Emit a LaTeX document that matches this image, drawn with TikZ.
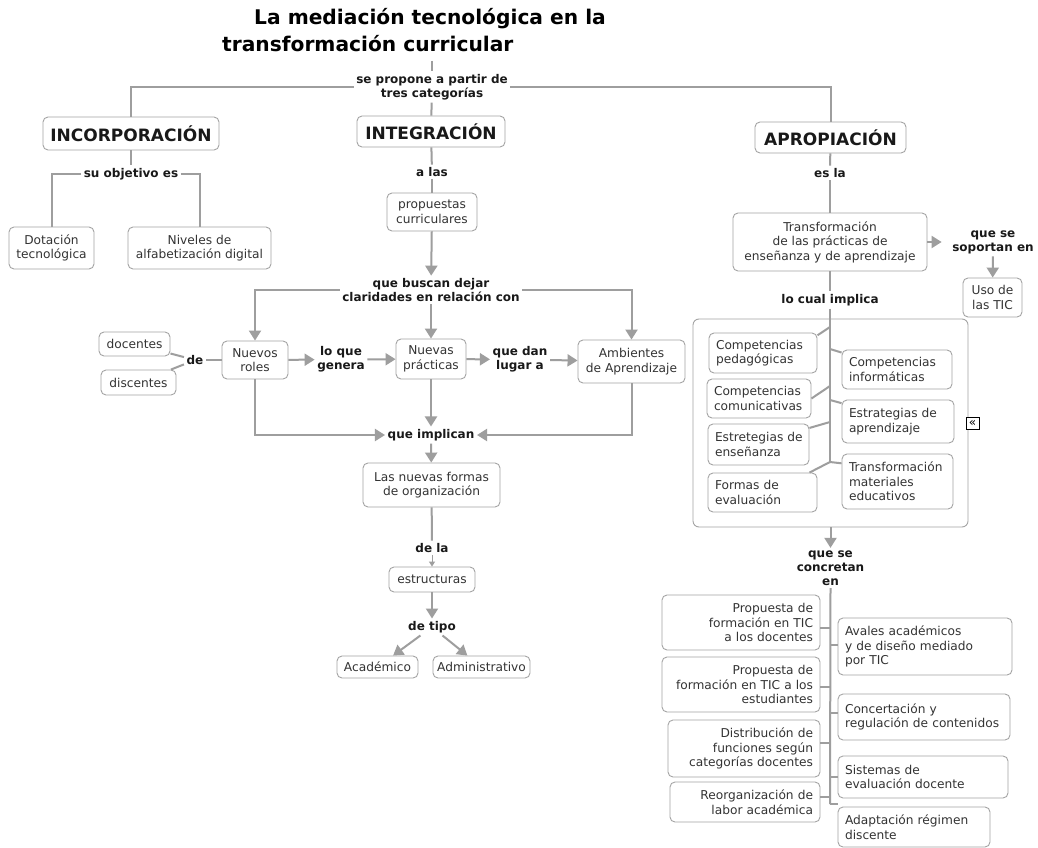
\documentclass[tikz,border=0pt]{standalone}
\usepackage{fontspec}
\setmainfont{DejaVu Sans}
\usetikzlibrary{arrows.meta,calc}
\hyphenpenalty=10000
\exhyphenpenalty=10000
\definecolor{linec}{HTML}{9E9E9E}
\definecolor{bordc}{HTML}{A4A4A4}
\definecolor{txtc}{HTML}{333333}
\newcommand{\bxf}{\fontsize{12.2}{14.5}\selectfont}
\newcommand{\lbf}{\fontsize{12}{14}\selectfont\bfseries}
\newcommand{\hdf}{\fontsize{17}{19}\selectfont\bfseries}
\newcommand{\ttlf}{\fontsize{20.2}{25}\selectfont\bfseries}
\tikzset{
  box/.style={draw=bordc, rounded corners=5pt, line width=0.9pt, text=txtc, font=\bxf, inner sep=3pt, align=center},
  hbox/.style={box, font=\hdf, text=black!90},
  lbox/.style={box, align=left, inner xsep=7pt, text width=#1},
  rbox/.style={box, align=right, inner xsep=7pt, text width=#1},
  lbl/.style={font=\lbf, text=black!90, inner sep=2.5pt, align=center},
  conn/.style={draw=linec, line width=2pt},
  thinconn/.style={draw=linec, line width=1.2pt},
  arr/.style={conn, -{Triangle[width=12pt,length=10pt]}},
  smallarr/.style={draw=linec, line width=1pt, -{Triangle[width=6pt,length=5pt]}},
}
\begin{document}
\begin{tikzpicture}[x=1pt,y=-1pt]
\fill[white] (0,0) rectangle (1038,848);
\useasboundingbox (0,0) rectangle (1038,848);

% title
\node[font=\ttlf, inner sep=0pt] (t1) at (430,19) {La mediación tecnológica en la};
\node[font=\ttlf, inner sep=0pt, anchor=west] (t2) at (222,44) {transformación curricular};
\coordinate (ts) at (432,61);

% container
\node[draw=bordc, rounded corners=6pt, line width=0.9pt, minimum width=275pt, minimum height=208pt] (cont) at (830.5,423) {};

% labels
\node[lbl] (lab1) at (432,87) {se propone a partir de\\tres categorías};
\node[lbl] (lab2) at (131,174) {su objetivo es};
\node[lbl] (lab3) at (432,172) {a las};
\node[lbl] (lab4) at (431,290) {que buscan dejar\\claridades en relación con};
\node[lbl] (de) at (195,360) {de};
\node[lbl] (lab5) at (341,359.5) {lo que\\genera};
\node[lbl] (lab6) at (520,359.5) {que dan\\lugar a};
\node[lbl] (lab7) at (431,435) {que implican};
\node[lbl] (lab8) at (432,548) {de la};
\node[lbl] (lab9) at (432,627) {de tipo};
\node[lbl] (lab10) at (830,173) {es la};
\node[lbl] (lab11) at (993,242) {que se\\soportan en};
\node[lbl] (lab12) at (830,300) {lo cual implica};
\node[lbl] (lab13) at (830.5,568) {que se\\concretan\\en};

% boxes
\node[hbox, minimum width=176pt, minimum height=33pt] (inc) at (131,133.5) {INCORPORACIÓN};
\node[hbox, minimum width=148pt, minimum height=31pt] (int) at (431,131.5) {INTEGRACIÓN};
\node[hbox, minimum width=151pt, minimum height=31pt] (apr) at (830.5,137.5) {APROPIACIÓN};
\node[box, minimum width=85pt, minimum height=42pt] (dot) at (51.5,248) {Dotación\\tecnológica};
\node[box, minimum width=143pt, minimum height=42pt] (niv) at (199.5,248) {Niveles de\\alfabetización digital};
\node[box, minimum width=90pt, minimum height=38pt] (prop) at (432,212) {propuestas\\curriculares};
\node[box, minimum width=71pt, minimum height=24pt] (doc) at (134.5,344) {docentes};
\node[box, minimum width=75pt, minimum height=25pt] (dis) at (138.5,382.5) {discentes};
\node[box, minimum width=66pt, minimum height=38pt] (roles) at (255,360) {Nuevos\\roles};
\node[box, minimum width=70pt, minimum height=40pt] (prac) at (431,359) {Nuevas\\prácticas};
\node[box, minimum width=107pt, minimum height=43pt] (amb) at (631.5,361.5) {Ambientes\\de Aprendizaje};
\node[box, minimum width=137pt, minimum height=44pt] (org) at (431.5,485) {Las nuevas formas\\de organización};
\node[box, minimum width=86pt, minimum height=25pt] (est) at (432,579.5) {estructuras};
\node[box, minimum width=81pt, minimum height=22pt] (aca) at (377.5,667) {Académico};
\node[box, minimum width=97pt, minimum height=22pt] (adm) at (481.5,667) {Administrativo};
\node[box, minimum width=194pt, minimum height=58pt] (trans) at (830,242) {Transformación\\de las prácticas de\\enseñanza y de aprendizaje};
\node[box, minimum width=59pt, minimum height=39pt] (uso) at (992.5,297.5) {Uso de\\las TIC};

% container content
\node[lbox=94pt, minimum height=40pt] (ped) at (763,353) {Competencias\\pedagógicas};
\node[lbox=96pt, minimum height=39pt] (inf) at (897,369.5) {Competencias\\informáticas};
\node[lbox=90pt, minimum height=39pt] (com) at (759,398.5) {Competencias\\comunicativas};
\node[lbox=98pt, minimum height=43pt] (ea) at (898,421.5) {Estrategias~de\\aprendizaje};
\node[lbox=87pt, minimum height=41pt] (ens) at (758.5,444.5) {Estretegias~de\\enseñanza};
\node[lbox=97pt, minimum height=55pt] (tm) at (897.5,481.5) {Transformación\\materiales\\educativos};
\node[lbox=95pt, minimum height=39pt] (for) at (762.5,492.5) {Formas~de\\evaluación};
\node[draw=black, line width=0.7pt, fill=white, inner sep=0pt, minimum width=13pt, minimum height=12pt, font=\fontsize{12}{12}\selectfont] (ico) at (972.5,423) {«};

% lower right
\node[rbox=144pt, minimum height=55pt] (pd) at (741,622.5) {Propuesta~de\\formación~en~TIC\\a~los~docentes};
\node[rbox=144pt, minimum height=55pt] (pe) at (741,684.5) {Propuesta~de\\formación~en~TIC~a~los\\estudiantes};
\node[rbox=138pt, minimum height=57pt] (dist) at (744,748.5) {Distribución~de\\funciones~según\\categorías~docentes};
\node[rbox=136pt, minimum height=40pt] (reorg) at (745,802) {Reorganización~de\\labor~académica};
\node[lbox=160pt, minimum height=57pt] (av) at (925,646.5) {Avales~académicos\\y~de~diseño~mediado\\por~TIC};
\node[lbox=158pt, minimum height=46pt] (conc) at (924,717) {Concertación~y\\regulación~de~contenidos};
\node[lbox=156pt, minimum height=42pt] (sis) at (923,777) {Sistemas~de\\evaluación~docente};
\node[lbox=138pt, minimum height=40pt] (ad) at (914,827) {Adaptación~régimen\\discente};

% spine coordinates
\coordinate (sp) at (830,463);
\coordinate (s1) at (830,327);
\coordinate (s2) at (830,349);
\coordinate (s3) at (830,386);
\coordinate (s4) at (830,400);
\coordinate (s5) at (830,422);
\coordinate (s6) at (830,462);
\coordinate (sb) at (830,804);
\coordinate (u1) at (830,628);
\coordinate (u2) at (830,645);
\coordinate (u3) at (830,687);
\coordinate (u4) at (830,713);
\coordinate (u5) at (830,743);
\coordinate (u6) at (830,777);
\coordinate (u7) at (830,797);

% connectors: top
\draw[thinconn] (ts) -- (lab1);
\draw[conn] (lab1.west) -| (inc.north);
\draw[conn] (lab1.east) -| (apr.north);
\draw[conn] (lab1) -- (int);
% incorporacion
\draw[conn] (inc) -- (lab2);
\draw[conn] (lab2.west) -| (dot.north);
\draw[conn] (lab2.east) -| (niv.north);
% integracion
\draw[conn] (int) -- (lab3);
\draw[conn] (lab3) -- (prop);
\draw[arr] (prop) -- (lab4);
\draw[arr] (lab4.west) -| (roles.north);
\draw[arr] (lab4.east) -| (amb.north);
\draw[arr] (lab4) -- (prac);
\draw[conn] (doc) -- (de);
\draw[conn] (dis) -- (de);
\draw[conn] (de) -- (roles);
\draw[arr] (roles) -- (lab5);
\draw[arr] (lab5) -- (prac);
\draw[arr] (prac) -- (lab6);
\draw[arr] (lab6) -- (amb);
\draw[arr] (roles.south) |- (lab7.west);
\draw[arr] (amb.south) |- (lab7.east);
\draw[arr] (prac) -- (lab7);
\draw[arr] (lab7) -- (org);
\draw[conn] (org) -- (lab8);
\draw[smallarr] (lab8) -- (est);
\draw[arr] (est) -- (lab9);
\draw[arr] (lab9) -- (aca);
\draw[arr] (lab9) -- (adm);
% apropiacion
\draw[conn] (apr) -- (lab10);
\draw[conn] (lab10) -- (trans);
\draw[arr, shorten >=8pt] (trans) -- (lab11);
\draw[arr] (lab11) -- (uso);
\draw[conn] (trans) -- (lab12);
\draw[conn] (lab12.south) -- (sp);
\draw[conn] (s1) -- (ped.18);
\draw[conn] (s2) -- (inf.163);
\draw[conn] (s3) -- (com.east);
\draw[conn] (s4) -- (ea.162);
\draw[conn] (s5) -- (ens.18);
\draw[conn] (s6) -- (tm.162);
\draw[conn] (s6) -- (for.23);
\draw[arr] (cont.south) -- (lab13.north);
\draw[conn] (lab13.south) -- (sb);
\draw[conn] (u1) -- (u1 -| pd.east);
\draw[conn] (u2) -- (u2 -| av.west);
\draw[conn] (u3) -- (u3 -| pe.east);
\draw[conn] (u4) -- (u4 -| conc.west);
\draw[conn] (u5) -- (u5 -| dist.east);
\draw[conn] (u6) -- (u6 -| sis.west);
\draw[conn] (u7) -- (u7 -| reorg.east);
\draw[conn] (sb) -- (sb -| ad.west);
\end{tikzpicture}
\end{document}
